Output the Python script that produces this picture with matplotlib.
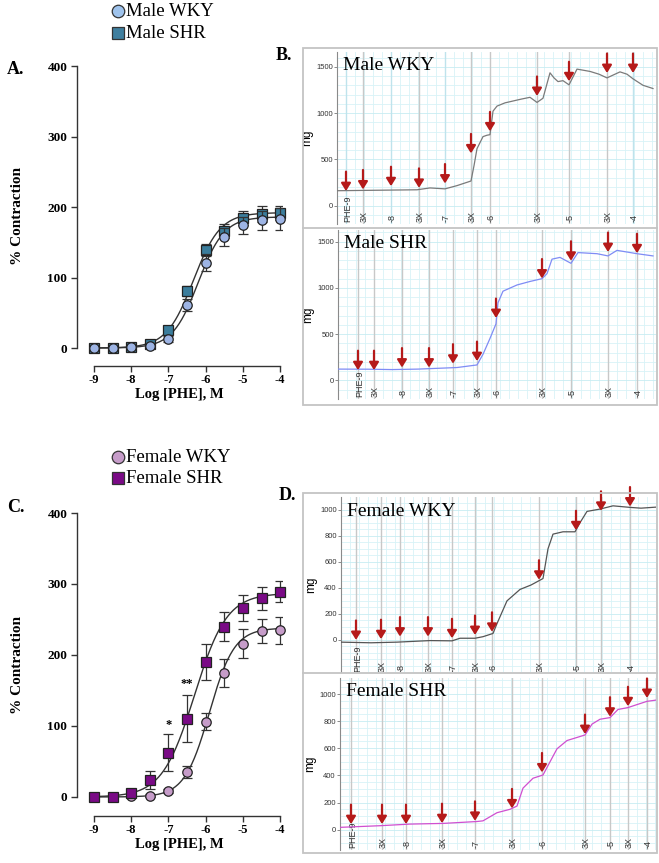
import numpy as np
import matplotlib
matplotlib.use("Agg")
import matplotlib.pyplot as plt
from matplotlib.patches import Rectangle
from matplotlib.lines import Line2D

plt.rcParams['font.family'] = ['Liberation Serif', 'DejaVu Serif']

W, H = 659, 863

# ---------------- dose-response data ----------------
log_phe = [-9, -8.5, -8, -7.5, -7, -6.5, -6, -5.5, -5, -4.5, -4]
x_ticks = [-9, -8, -7, -6, -5, -4]
y_ticks = [0, 100, 200, 300, 400]

male_wky = [0, 0, 1, 3, 13, 61, 121, 157, 174, 181, 183]
male_wky_err = [1, 1, 1, 2, 4, 8, 12, 13, 12, 14, 15]
male_shr = [0, 0, 1, 5, 25, 81, 139, 166, 184, 190, 192]
male_shr_err = [1, 1, 1, 2, 4, 7, 8, 10, 10, 11, 10]

female_wky = [0, 0, 1, 2, 8, 35, 106, 175, 216, 234, 235]
female_wky_err = [1, 1, 1, 2, 3, 8, 12, 20, 20, 17, 19]
female_shr = [0, 0, 5, 24, 62, 110, 190, 240, 266, 280, 289]
female_shr_err = [1, 1, 2, 13, 26, 33, 25, 20, 18, 16, 15]

# fitted sigmoid parameters [top, logEC50, hill]
male_wky_fit = [186, -6.2, 1.25]
male_shr_fit = [192, -6.33, 1.2]
female_wky_fit = [238, -5.9, 1.3]
female_shr_fit = [287, -6.3, 1.0]

sig_labels = ['*', '**']
sig_x = [-7, -6.5]
sig_y = [93, 150]

# ---------------- trace data ----------------
event_labels = ['PHE-9', '3X', '-8', '3X', '-7', '3X', '-6', '3X', '-5', '3X', '-4']

mwky_t = [0, 40, 80, 93, 108, 120, 134, 137, 140, 146, 150, 153, 156, 160, 168, 176, 184,
          193, 200, 206, 213, 217, 221, 226, 232, 240, 253, 262, 270, 283, 290, 296, 306, 316]
mwky_mg = [160, 165, 170, 190, 180, 215, 265, 430, 615, 745, 760, 766, 1020, 1075, 1110, 1130, 1150,
           1170, 1115, 1160, 1435, 1380, 1340, 1350, 1305, 1475, 1450, 1420, 1380, 1445, 1420, 1370, 1300, 1265]
mwky_ev = [9, 26, 54, 82, 108, 134, 153, 200, 232, 270, 296]
mwky_arrow = [156, 174, 209, 191, 238, 564, 802, 1185, 1344, 1433, 1433]

mshr_t = [0, 30, 54, 80, 119, 139, 145, 152, 158, 160, 165, 179, 192, 204, 209, 214, 222,
          233, 240, 259, 270, 279, 299, 315]
mshr_mg = [123, 122, 118, 123, 140, 168, 283, 455, 612, 840, 965, 1032, 1070, 1100, 1154, 1311, 1330,
           1266, 1382, 1370, 1346, 1406, 1370, 1346]
mshr_ev = [20, 36, 64, 91, 115, 139, 158, 204, 233, 270, 299]
mshr_arrow = [112, 112, 140, 140, 182, 210, 675, 1102, 1294, 1388, 1375]

fwky_t = [0, 30, 56, 89, 111, 119, 134, 142, 152, 156, 166, 179, 190, 197, 202, 207, 212,
          222, 234, 239, 246, 259, 272, 289, 300, 315]
fwky_mg = [-20, -25, -20, -8, -10, 10, 10, 22, 47, 123, 298, 386, 420, 449, 470, 699, 812,
           830, 830, 900, 987, 1005, 1030, 1018, 1012, 1020]
fwky_ev = [15, 40, 59, 87, 111, 134, 151, 198, 235, 260, 289]
fwky_arrow = [-3, 3, 23, 23, 10, 35, 60, 461, 842, 992, 1025]

fshr_t = [0, 40, 70, 103, 137, 143, 157, 170, 177, 183, 193, 203, 210, 217, 227, 245,
          252, 260, 270, 278, 288, 297, 307, 316]
fshr_mg = [17, 29, 41, 46, 60, 65, 125, 150, 174, 306, 379, 403, 500, 596, 657, 698,
           778, 814, 826, 886, 900, 922, 946, 955]
fshr_ev = [11, 42, 66, 102, 135, 172, 202, 245, 270, 288, 307]
fshr_arrow = [41, 41, 41, 48, 65, 157, 422, 705, 833, 910, 971]

# ---------------- helpers ----------------
fig = plt.figure(figsize=(W / 100, H / 100), dpi=100)


def px_axes(l, t, r, b):
    return fig.add_axes([l / W, 1 - b / H, (r - l) / W, (b - t) / H])


def fx(x):
    return x / W


def fy(y):
    return 1 - y / H


def sigmoid(xs, p):
    top, ec, hill = p
    return top / (1 + 10 ** ((ec - xs) * hill))


def dose_panel(box, ylo, series):
    ax = px_axes(*box)
    ax.set_xlim(-9.456, -3.95)
    ax.set_ylim(ylo, 400)
    for s in ['top', 'right']:
        ax.spines[s].set_visible(False)
    ax.spines['left'].set_bounds(0, 400)
    ax.spines['bottom'].set_bounds(-9, -4)
    for s in ['left', 'bottom']:
        ax.spines[s].set_linewidth(1.0)
        ax.spines[s].set_color('#333333')
    ax.set_xticks(x_ticks)
    ax.set_yticks(y_ticks)
    ax.set_xticklabels([str(v) for v in x_ticks], fontweight='bold', fontsize=9)
    ax.set_yticklabels([str(v) for v in y_ticks], fontweight='bold', fontsize=9.5)
    ax.tick_params(direction='out', length=4, width=1.0, color='#333333', pad=3)
    ax.tick_params(axis='x', pad=2)
    ax.set_ylabel('% Contraction', fontweight='bold', fontsize=11, labelpad=17)
    ax.set_xlabel('Log [PHE], M', fontweight='bold', fontsize=10.5, labelpad=1)
    xs = np.linspace(-9, -4, 300)
    for (vals, errs, fit, marker, color, z) in series:
        ax.plot(xs, sigmoid(xs, fit), color='#333333', lw=1.0, zorder=2)
        ax.errorbar(log_phe, vals, yerr=errs, fmt='none', ecolor='#333333',
                    elinewidth=0.9, capsize=3.5, capthick=0.9, zorder=z)
        ax.plot(log_phe, vals, marker, ms=6.8, mfc=color, mec='#222222',
                mew=0.9, ls='none', zorder=z + 0.5, clip_on=False)
    return ax


# ---------------- Panel A ----------------
axA = dose_panel((77, 66, 282, 366), -25.5, [
    (male_shr, male_shr_err, male_shr_fit, 's', '#3b7d9c', 3),
    (male_wky, male_wky_err, male_wky_fit, 'o', '#9db4e4', 4),
])

# ---------------- Panel C ----------------
axC = dose_panel((77, 513, 282, 816), -26.8, [
    (female_wky, female_wky_err, female_wky_fit, 'o', '#c69cc9', 3),
    (female_shr, female_shr_err, female_shr_fit, 's', '#7a0a86', 4),
])
for lab, xv, yv in zip(sig_labels, sig_x, sig_y):
    axC.text(xv, yv, lab, ha='center', va='bottom', fontsize=9, fontweight='bold')

# legends
def legend_entry(x, y, marker, color, text):
    fig.add_artist(Line2D([fx(x)], [fy(y)], transform=fig.transFigure, marker=marker,
                          ms=9, mfc=color, mec='#333333', mew=0.9, ls='none'))
    fig.text(fx(x + 8), fy(y), text, fontsize=13.5, va='center', ha='left')

legend_entry(118, 11, 'o', '#9fc3ec', 'Male WKY')
legend_entry(118, 33, 's', '#3f7f9f', 'Male SHR')
legend_entry(118, 457, 'o', '#c69cc9', 'Female WKY')
legend_entry(118, 478, 's', '#7a0a86', 'Female SHR')

# panel letters
fig.text(fx(7), fy(69), 'A.', fontsize=13, fontweight='bold', va='center')
fig.text(fx(7), fy(508), 'C.', fontsize=13, fontweight='bold', va='center')
fig.text(fx(276), fy(56), 'B.', fontsize=13, fontweight='bold', va='center')
fig.text(fx(279), fy(495), 'D.', fontsize=13, fontweight='bold', va='center')


# ---------------- trace panels ----------------
def trace_panel(box, xmax, ylim, yticks, grid_dy, t, mg, color, ev_t, arrow_mg,
                title, label_y=0.01, ev_colors=None):
    ax = px_axes(*box)
    ax.set_xlim(0, xmax)
    ax.set_ylim(*ylim)
    for s in ['top', 'right', 'bottom']:
        ax.spines[s].set_visible(False)
    ax.spines['left'].set_color('#8a8a8a')
    ax.spines['left'].set_linewidth(0.8)
    ax.set_xticks([])
    ax.set_xticks(np.arange(0, xmax, 9), minor=True)
    ax.set_yticks(yticks)
    ax.set_yticks(np.arange(ylim[0] - ylim[0] % grid_dy, ylim[1], grid_dy), minor=True)
    ax.set_yticklabels([str(v) for v in yticks])
    ax.tick_params(axis='y', which='major', length=2, width=0.6, color='#777777',
                   labelsize=5.5, labelcolor='#333333', pad=1, labelfontfamily='Liberation Sans')
    ax.tick_params(which='minor', length=0)
    ax.grid(which='minor', color='#d8f3f7', lw=0.6)
    ax.grid(which='major', axis='y', color='#c8ecf2', lw=0.6)
    ax.set_axisbelow(True)
    ax.set_ylabel('mg', family='Liberation Sans', fontsize=8.5, labelpad=2)
    for i, (te, lab) in enumerate(zip(ev_t, event_labels)):
        c = '#c8c8c8' if ev_colors is None else ev_colors[i]
        ax.axvline(te, color=c, lw=1.0, zorder=1)
        ax.text(te + 1.5, label_y, lab, transform=ax.get_xaxis_transform(), rotation=90,
                ha='center', va='bottom', fontsize=6.5, color='#333333',
                family='Liberation Sans', clip_on=True)
    ax.plot(t, mg, color=color, lw=0.9, zorder=3)
    for te, am in zip(ev_t, arrow_mg):
        ax.annotate('', xy=(te, am), xytext=(0, 14), textcoords='offset points',
                    arrowprops=dict(arrowstyle='-|>,head_width=0.28,head_length=0.45',
                                    color='#b51a1a', lw=1.6, shrinkA=0, shrinkB=0),
                    zorder=4)
    ax.text(0.018, 0.92, title, transform=ax.transAxes, fontsize=14, va='center', ha='left',
            zorder=5)
    return ax


mwky_colors = ['#bfe3ec', '#c8c8c8', '#bfe3ec', '#c8c8c8', '#bfe3ec', '#c8c8c8',
               '#c8c8c8', '#c8c8c8', '#c8c8c8', '#c8c8c8', '#bfe3ec']

trace_panel((337, 52, 656, 224), 319, (-160, 1660), [0, 500, 1000, 1500], 100,
            mwky_t, mwky_mg, '#7a7a7a', mwky_ev, mwky_arrow, 'Male WKY',
            ev_colors=mwky_colors)
trace_panel((338, 230, 656, 399), 318, (-147, 1626), [0, 500, 1000, 1500], 100,
            mshr_t, mshr_mg, '#7f8cf5', mshr_ev, mshr_arrow, 'Male SHR')
trace_panel((341, 497, 656, 672), 315, (-218, 1098), [0, 200, 400, 600, 800, 1000], 50,
            fwky_t, fwky_mg, '#555555', fwky_ev, fwky_arrow, 'Female WKY', label_y=0.0)
trace_panel((340, 678, 656, 850), 316, (-128, 1118), [0, 200, 400, 600, 800, 1000], 50,
            fshr_t, fshr_mg, '#d04fd0', fshr_ev, fshr_arrow, 'Female SHR')

# frames around B and D
for (l, t, r, b, mid) in [(303, 48, 657, 405, 228), (303, 493, 657, 853, 673)]:
    fig.patches.append(Rectangle((fx(l), fy(b)), (r - l) / W, (b - t) / H, transform=fig.transFigure,
                                 fill=False, edgecolor='#c4c4c4', lw=1.3))
    fig.add_artist(Line2D([fx(l), fx(r)], [fy(mid), fy(mid)], transform=fig.transFigure,
                          color='#c4c4c4', lw=1.3))

fig.savefig('out.png', dpi=100)
